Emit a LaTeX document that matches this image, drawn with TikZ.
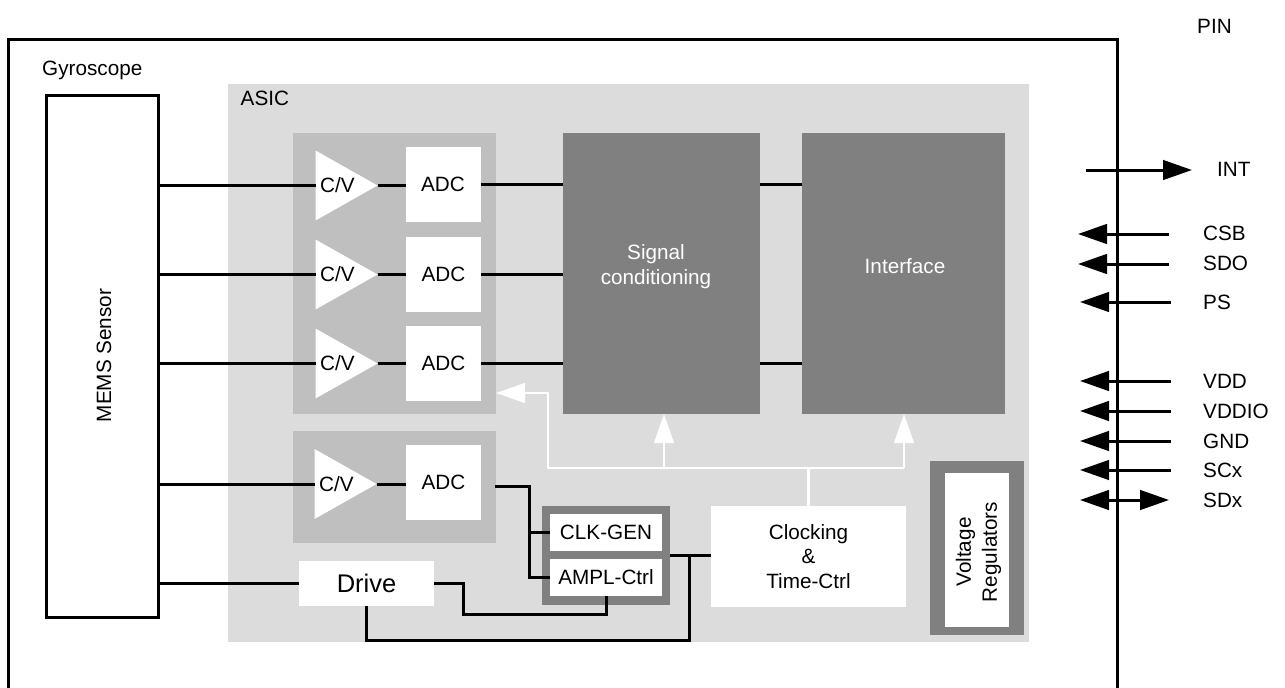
\documentclass[tikz,border=0pt]{standalone}
\usepackage{fontspec}
\setmainfont{Liberation Sans}
\usetikzlibrary{shapes.geometric,arrows.meta}
\definecolor{asicfill}{HTML}{DCDCDC}
\definecolor{groupfill}{HTML}{BFBFBF}
\definecolor{darkfill}{HTML}{808080}
\tikzset{
  plate/.style={rectangle,inner sep=0pt,outer sep=0pt,draw=none,font=\fontsize{20.7}{24.5}\selectfont,align=center},
  whitebox/.style={plate,fill=white},
  darkbox/.style={plate,fill=darkfill},
  groupbox/.style={plate,fill=groupfill},
  amp/.style={isosceles triangle,isosceles triangle stretches,shape border rotate=0,fill=white,inner sep=0pt,outer sep=0pt,minimum width=70pt,minimum height=62pt,anchor=lower side,font=\fontsize{20.7}{24.5}\selectfont},
  txt/.style={inner sep=0pt,font=\fontsize{20.7}{24.5}\selectfont,align=center},
  pintxt/.style={txt,anchor=west},
  wire/.style={draw=black,line width=3pt},
  whitearrow/.style={draw=white,line width=2.7pt,-{Triangle[length=29pt,width=19.5pt]}},
  pinout/.style={wire,-{Triangle[length=29pt,width=19.5pt]}},
  pinboth/.style={wire,{Triangle[length=29pt,width=19.5pt]}-{Triangle[length=29pt,width=19.5pt]}},
}
\begin{document}
\begin{tikzpicture}[x=1pt,y=-1pt]
\fill[white] (0,0) rectangle (1285,688);
\path[use as bounding box] (0,0) rectangle (1285,688);

% frame (open at the bottom)
\coordinate (frameBL) at (8,690);
\coordinate (frameTL) at (8,39);
\coordinate (frameTR) at (1117,39);
\coordinate (frameBR) at (1117,690);
\draw[wire] (frameBL) -- (frameTL) -- (frameTR) -- (frameBR);

\node[pintxt] (pinT) at (1197,26) {PIN};
\node[pintxt] (gyroT) at (42,70.5) {Gyroscope};

% ASIC background and groups
\node[plate,fill=asicfill,minimum width=801pt,minimum height=558pt] (asic) at (628.5,363) {};
\node[pintxt] (asicT) at (240.5,98) {ASIC};
\node[groupbox,minimum width=203pt,minimum height=281pt] (grpA) at (394.5,273.5) {};
\node[groupbox,minimum width=203pt,minimum height=112pt] (grpB) at (394.5,487) {};

% MEMS
\node[rectangle,draw=black,line width=3pt,fill=white,inner sep=0pt,outer sep=0pt,minimum width=112pt,minimum height=522pt] (mems) at (102.5,356) {};
\node[txt,rotate=90] (memsT) at (104,355.5) {MEMS Sensor};

% amplifiers
\node[amp] (ampA) at (315.5,185.5) {C/V};
\node[amp] (ampB) at (315.5,274.5) {C/V};
\node[amp] (ampC) at (315.5,363.5) {C/V};
\node[amp] (ampD) at (314.5,484) {C/V};

% ADCs
\node[whitebox,minimum width=75pt,minimum height=75pt] (adcA) at (443,184.5) {ADC};
\node[whitebox,minimum width=75pt,minimum height=75pt] (adcB) at (443.5,274.5) {ADC};
\node[whitebox,minimum width=75pt,minimum height=75pt] (adcC) at (443.5,363.5) {ADC};
\node[whitebox,minimum width=75pt,minimum height=75pt] (adcD) at (443.5,482.5) {ADC};

% large blocks
\node[darkbox,minimum width=197pt,minimum height=281pt] (sig) at (661.5,273.5) {};
\node[darkbox,minimum width=203pt,minimum height=281pt] (iface) at (903.5,273.5) {};
\node[txt,text=white] (sigT) at (656,266.5) {Signal\\conditioning};
\node[txt,text=white] (ifaceT) at (905,266.5) {Interface};

% clock generator group
\node[darkbox,minimum width=128pt,minimum height=99pt] (grpC) at (606,555.5) {};
\node[whitebox,minimum width=112.5pt,minimum height=37pt] (clk) at (606,532.5) {CLK-GEN};
\node[whitebox,minimum width=112.5pt,minimum height=37pt] (ampl) at (606,577.5) {AMPL-Ctrl};

\node[whitebox,minimum width=195pt,minimum height=101pt] (clock) at (808.5,556.5) {Clocking\\\&\\Time-Ctrl};
\node[whitebox,minimum width=135pt,minimum height=45pt,font=\fontsize{25.5}{28}\selectfont] (drive) at (366.5,583.5) {Drive};

% voltage regulators
\node[darkbox,minimum width=94pt,minimum height=174pt] (vrO) at (977,548) {};
\node[whitebox,minimum width=64pt,minimum height=154pt] (vrI) at (977,550) {};
\node[txt,rotate=90,font=\fontsize{20.7}{26}\selectfont] (vrT) at (978.5,552) {Voltage\\Regulators};

% wires MEMS -> amplifiers -> ADC
\foreach \r in {A,B,C,D}{
  \draw[wire] (mems.east |- amp\r.lower side) -- (amp\r.lower side);
  \draw[wire] (amp\r.apex) -- (amp\r.apex -| adc\r.west);
}
% ADC -> blocks
\foreach \r in {A,B,C}{
  \draw[wire] (adc\r.east) -- (adc\r.east -| sig.west);
}
% signal conditioning -> interface
\draw[wire] (adcA.east -| sig.east) -- (adcA.east -| iface.west);
\draw[wire] (adcC.east -| sig.east) -- (adcC.east -| iface.west);

% fourth channel to CLK / AMPL
\coordinate (feedS) at (495,486);
\coordinate (feedJ) at (529,486);
\draw[wire] (feedS) -- (feedJ) |- (ampl.west);
\draw[wire] (feedJ |- clk.west) -- (clk.west);

% MEMS <-> Drive
\draw[wire] (mems.east |- drive.west) -- (drive.west);
\coordinate (driveK) at (463,614);
\draw[wire] (drive.east) -| (driveK) -| (ampl.south);

% clock group -> clocking, and bus to Drive
\draw[wire] (grpC.east) -- (grpC.east -| clock.west);
\coordinate (busT) at (689,555.5);
\coordinate (busB) at (689,640);
\draw[wire] (busT) -- (busB) -| (drive.south);

% white clock tree
\coordinate (treeL) at (548,468);
\coordinate (treeU) at (548,393);
\coordinate (treeS) at (664,468);
\coordinate (treeR) at (904,468);
\draw[draw=white,line width=2.7pt] (clock.north) -- (clock.north |- treeL);
\draw[whitearrow] (treeR) -- (treeL) -- (treeU) -- (treeU -| grpA.east);
\draw[whitearrow] (treeS) -- (treeS |- sig.south);
\draw[whitearrow] (treeR) -- (treeR |- iface.south);

% pins
\node[pintxt] (lblINT) at (1217,169.5) {INT};
\node[pintxt] (lblCSB) at (1203,233) {CSB};
\node[pintxt] (lblSDO) at (1203,263) {SDO};
\node[pintxt] (lblPS) at (1203,302) {PS};
\node[pintxt] (lblVDD) at (1203,381) {VDD};
\node[pintxt] (lblVDDIO) at (1203,411) {VDDIO};
\node[pintxt] (lblGND) at (1203,441) {GND};
\node[pintxt] (lblSCx) at (1203,470) {SCx};
\node[pintxt] (lblSDx) at (1203,500) {SDx};

\coordinate (intS) at (1086,170);
\coordinate (intE) at (1192,170);
\draw[pinout] (intS) -- (intE);
\foreach \n/\y/\a/\b in {CSB/234/1169/1078,SDO/264/1169/1078,PS/302/1171/1080,VDD/381/1171/1080,VDDIO/411/1171/1080,GND/441/1171/1080,SCx/470/1171/1080}{
  \coordinate (s\n) at (\a,\y);
  \coordinate (e\n) at (\b,\y);
  \draw[pinout] (s\n) -- (e\n);
}
\coordinate (sdxL) at (1080,500);
\coordinate (sdxR) at (1169,500);
\draw[pinboth] (sdxL) -- (sdxR);
\end{tikzpicture}
\end{document}
